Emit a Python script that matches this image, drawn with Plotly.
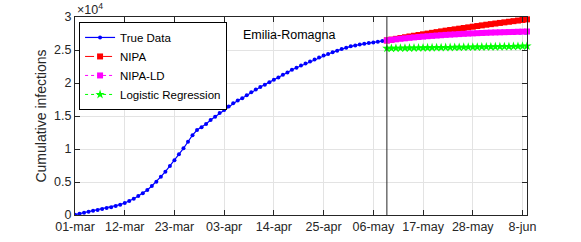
import plotly.graph_objects as go
import pandas as pd

# ---- data ----
region = "Emilia-Romagna"
start_date = "2020-03-01"
true_data = [50, 200, 350, 500, 650, 760, 910, 1060, 1160, 1360,
             1570, 1820, 2120, 2470, 2880, 3280, 3790, 4390, 5050, 5810,
             6570, 7420, 8300, 9190, 10100, 11100, 12100, 12880, 13300, 13800,
             14400, 14900, 15450, 15900, 16450, 16950, 17350, 17700, 18150, 18600,
             19000, 19400, 19750, 20100, 20500, 20850, 21250, 21600, 22000, 22300,
             22650, 22950, 23250, 23550, 23850, 24150, 24400, 24650, 24900, 25150,
             25350, 25550, 25700, 25850, 25950, 26050, 26150, 26250, 26350, 26450]
nipa = [26450, 26570, 26690, 26810, 26930, 27050, 27160, 27270, 27380, 27490,
        27600, 27710, 27820, 27930, 28030, 28130, 28230, 28330, 28430, 28530,
        28630, 28730, 28830, 28920, 29010, 29100, 29190, 29280, 29370, 29460,
        29550, 29640]
nipa_ld = [26450, 26540, 26620, 26700, 26770, 26840, 26910, 26970, 27030, 27090,
           27140, 27190, 27240, 27290, 27330, 27370, 27410, 27450, 27490, 27520,
           27550, 27580, 27610, 27640, 27660, 27680, 27700, 27720, 27740, 27760,
           27780, 27800]
nipa_ld_base = [26400, 26480, 26550, 26620, 26690, 26750, 26810, 26870, 26920, 26970,
                27020, 27060, 27100, 27140, 27180, 27210, 27240, 27270, 27300, 27320,
                27340, 27360, 27380, 27390, 27400, 27410, 27420, 27425, 27430, 27435,
                27440, 27445]
logistic = [25250, 25260, 25270, 25280, 25290, 25300, 25310, 25320, 25330, 25340,
            25350, 25360, 25370, 25380, 25390, 25400, 25410, 25420, 25430, 25440,
            25450, 25460, 25470, 25480, 25490, 25500, 25510, 25520, 25540, 25560,
            25580, 25600]
x_tick_dates = ["2020-03-01", "2020-03-12", "2020-03-23", "2020-04-03", "2020-04-14",
                "2020-04-25", "2020-05-06", "2020-05-17", "2020-05-28", "2020-06-08"]
x_tick_labels = ["01-mar", "12-mar", "23-mar", "03-apr", "14-apr",
                 "25-apr", "06-may", "17-may", "28-may", "8-jun"]
y_tick_vals = [0, 5000, 10000, 15000, 20000, 25000, 30000]
y_tick_labels = ["0", "0.5", "1", "1.5", "2", "2.5", "3"]

dates_true = pd.date_range(start_date, periods=len(true_data))
dates_pred = pd.date_range(dates_true[-1], periods=len(nipa))

FONT = "Liberation Sans, Arial, Helvetica, sans-serif"
AXC = "#262626"

fig = go.Figure()
fig.add_trace(go.Scatter(x=dates_true, y=true_data, name="True Data", mode="lines+markers",
                         line=dict(color="#0000ff", width=1.2),
                         marker=dict(symbol="circle", size=4, color="#0000ff")))
fig.add_trace(go.Scatter(x=dates_pred, y=nipa_ld_base, name="NIPA-LD base", mode="lines",
                         line=dict(color="#0000ff", width=1.2, dash="dot"), showlegend=False))
fig.add_trace(go.Scatter(x=dates_pred, y=nipa, name="NIPA", mode="lines+markers",
                         line=dict(color="#ff0000", width=1, dash="dash"), cliponaxis=False,
                         marker=dict(symbol="square", size=6, color="#ff0000")))
fig.add_trace(go.Scatter(x=dates_pred, y=nipa_ld, name="NIPA-LD", mode="lines+markers",
                         line=dict(color="#ff00ff", width=1, dash="dot"), cliponaxis=False,
                         marker=dict(symbol="square", size=6, color="#ff00ff")))
fig.add_trace(go.Scatter(x=dates_pred, y=logistic, name="Logistic Regression", mode="lines+markers",
                         line=dict(color="#00ff00", width=1, dash="dot"), cliponaxis=False,
                         marker=dict(symbol="star", size=7, color="#00ff00")))

fig.add_shape(type="line", xref="x", yref="paper", x0=dates_true[-1], x1=dates_true[-1],
              y0=0, y1=1, line=dict(color=AXC, width=1))

fig.add_annotation(text=region, xref="paper", yref="paper", x=0.474, y=0.909,
                   xanchor="center", yanchor="middle",
                   showarrow=False, font=dict(size=12.5, color="#000000", family=FONT))
fig.add_annotation(text="\u00d710<sup>4</sup>", xref="paper", yref="paper", x=0.0, y=1.0,
                   xanchor="left", yanchor="bottom", showarrow=False, yshift=-2,
                   font=dict(size=12.5, color=AXC, family=FONT))

fig.update_layout(
    width=581, height=242,
    margin=dict(l=75, r=54, t=17, b=27, autoexpand=False),
    paper_bgcolor="white", plot_bgcolor="white",
    font=dict(family=FONT, size=12.5, color=AXC),
    showlegend=True,
    legend=dict(x=0.009, y=0.975, xanchor="left", yanchor="top",
                bgcolor="white", bordercolor="#000000", borderwidth=1,
                font=dict(size=11.5, color="#000000"), itemwidth=30,
                tracegroupgap=0),
    xaxis=dict(range=[pd.Timestamp(start_date), pd.Timestamp("2020-06-09")],
               tickvals=x_tick_dates, ticktext=x_tick_labels,
               showgrid=True, gridcolor="#e3e3e3", gridwidth=1,
               showline=True, linecolor=AXC, linewidth=1, mirror="ticks",
               ticks="inside", ticklen=5, tickcolor=AXC, zeroline=False,
               tickfont=dict(size=12.5)),
    yaxis=dict(range=[0, 30000], tickvals=y_tick_vals, ticktext=y_tick_labels,
               showgrid=True, gridcolor="#e3e3e3", gridwidth=1,
               showline=True, linecolor=AXC, linewidth=1, mirror="ticks",
               ticks="inside", ticklen=5, tickcolor=AXC, zeroline=False,
               tickfont=dict(size=12.5),
               title=dict(text="Cumulative infections", standoff=4,
                          font=dict(size=14, color=AXC))),
)

fig.write_html("out.html", config={"displayModeBar": False},
               post_script="document.body.style.margin='0px';")
